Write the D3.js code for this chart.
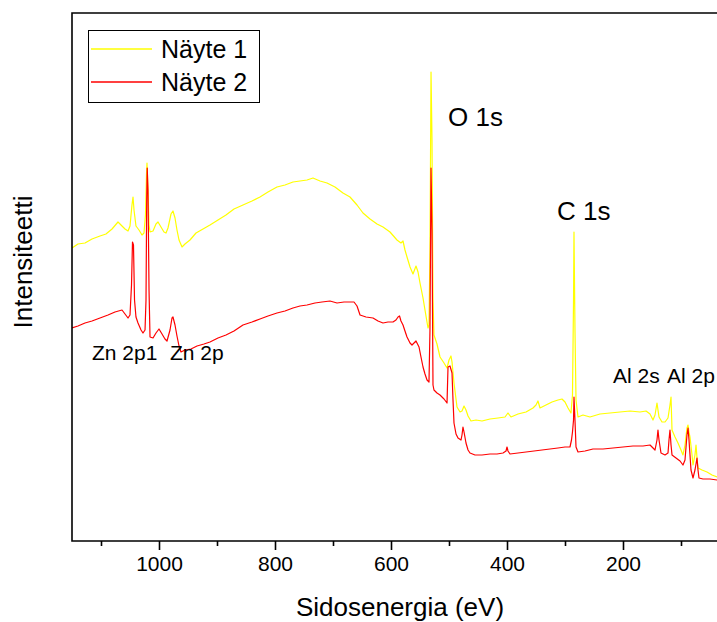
<!DOCTYPE html>
<html>
<head>
<meta charset="utf-8">
<script src="https://cdn.jsdelivr.net/npm/d3@7"></script>
<style>
  html, body { margin: 0; padding: 0; background: #fff; }
  svg { display: block; font-family: "Liberation Sans", Arial, sans-serif; }
</style>
</head>
<body>
<svg id="chart" width="717" height="622"></svg>
<script>
// XPS survey spectra: binding energy (eV) and intensity (a.u.)
const nayte1Energy = [1150.0,1139.7,1127.6,1115.5,1101.7,1091.4,1081.0,1070.7,1065.5,1058.6,1053.4,1050.0,1046.6,1044.8,1043.1,1039.7,1034.5,1029.3,1025.9,1023.3,1021.6,1020.7,1019.0,1017.2,1015.5,1010.3,1005.2,1001.7,996.6,991.4,987.9,984.5,979.3,975.9,972.4,969.0,965.5,960.3,955.2,946.6,936.2,924.1,912.1,898.3,884.5,870.7,855.2,839.7,825.9,812.1,796.6,782.8,769.0,756.9,744.8,734.5,722.4,710.3,696.6,682.8,670.7,658.6,648.3,636.2,624.1,613.8,601.7,589.7,582.8,579.3,575.9,572.4,567.2,562.1,556.9,553.4,550.0,544.8,541.4,536.2,534.5,532.8,531.0,529.3,527.6,525.9,520.7,515.5,508.6,503.4,500.0,496.6,494.8,491.4,486.2,481.0,477.6,474.1,470.7,467.2,462.1,453.4,443.1,429.3,415.5,403.4,398.3,393.1,381.0,367.2,355.2,350.0,346.6,343.1,332.8,322.4,312.1,305.2,300.0,294.8,289.7,287.1,285.3,284.5,282.8,281.0,277.6,269.0,256.9,239.7,222.4,205.2,187.9,170.7,160.3,153.4,148.3,144.8,141.4,137.9,132.8,127.6,122.4,119.0,117.2,115.5,110.3,105.2,100.0,96.6,93.1,89.7,87.9,86.2,84.5,81.0,79.3,75.9,74.1,72.4,70.7,63.8,55.2,46.6,37.9];
const nayte1Counts = [293,297,298,302,305,307,312,319,316,312,310,315,336,344,331,315,311,306,308,326,366,378,351,316,309,310,317,319,314,309,308,313,327,330,323,311,301,294,297,301,308,312,316,321,326,332,336,340,344,349,354,356,359,360,361,363,360,358,354,348,344,336,328,322,317,314,309,301,298,300,291,284,274,267,275,269,258,243,231,213,216,291,469,401,241,206,197,184,178,173,181,185,179,158,134,129,130,135,131,125,120,121,120,122,123,124,128,124,127,129,133,136,140,133,136,139,141,142,139,133,128,146,241,309,211,141,124,126,124,127,128,129,130,129,130,127,121,126,138,124,119,119,123,136,144,111,104,98,91,86,96,113,116,109,104,86,76,86,96,83,73,71,69,66,64];

const nayte2Energy = [1150.0,1139.7,1127.6,1115.5,1101.7,1087.9,1075.9,1063.8,1058.6,1053.4,1050.0,1047.4,1045.7,1044.0,1042.2,1039.7,1036.2,1031.0,1027.6,1024.1,1022.4,1021.2,1020.3,1019.0,1017.2,1015.5,1010.3,1005.2,1000.0,994.8,989.7,986.2,981.0,977.6,975.9,972.4,969.0,965.5,962.1,955.2,944.8,934.5,922.4,912.1,898.3,884.5,870.7,855.2,839.7,825.9,812.1,796.6,782.8,769.0,756.9,744.8,731.0,719.0,705.2,693.1,681.0,670.7,663.8,658.6,653.4,643.1,631.0,622.4,613.8,605.2,596.6,591.4,587.9,585.3,582.8,579.3,575.9,572.4,567.2,563.8,560.3,556.9,551.7,548.3,544.8,541.4,537.9,534.5,532.8,531.0,529.3,527.6,525.9,520.7,515.5,508.6,503.4,501.7,498.3,494.8,493.1,491.4,487.9,484.5,479.3,477.6,475.9,474.1,470.7,467.2,463.8,455.2,443.1,429.3,417.2,406.9,401.7,400.0,398.3,394.8,381.0,367.2,353.4,339.7,325.9,312.1,300.0,291.4,288.8,287.1,285.3,284.5,282.8,281.0,277.6,265.5,251.7,234.5,217.2,200.0,182.8,165.5,153.4,144.8,141.4,139.7,137.9,134.5,127.6,122.4,120.7,119.0,117.2,115.5,108.6,101.7,96.6,93.1,89.7,87.9,86.2,82.8,79.3,75.9,72.4,70.7,69.0,62.1,50.0,37.9];
const nayte2Counts = [213,215,218,220,223,226,229,231,227,223,226,256,299,296,241,224,218,211,208,211,241,341,373,351,251,204,203,208,212,207,202,200,211,223,224,216,205,195,189,191,192,195,197,199,203,206,210,216,219,222,225,228,230,233,235,236,238,239,240,238,239,239,239,235,226,224,223,220,218,219,219,221,224,225,220,216,210,204,198,196,198,200,194,184,174,167,161,159,211,373,311,156,151,148,146,142,138,174,175,168,141,118,107,103,101,106,114,109,98,91,88,86,86,87,87,88,90,94,90,87,88,89,90,91,92,93,94,94,101,109,121,144,121,94,89,90,92,92,93,94,95,95,96,91,101,111,101,88,86,88,101,111,96,86,83,80,76,81,106,113,101,71,63,71,83,71,63,62,62,61];

const seriesNames = ["Näyte 1", "Näyte 2"];
const seriesColors = ["#ffff00", "#ff0000"];

const majorTicks = [1000, 800, 600, 400, 200];
const minorTicks = [1100, 900, 700, 500, 300, 100];

const peakLabels = ["O 1s", "C 1s", "Zn 2p1", "Zn 2p", "Al 2s", "Al 2p"];

const svg = d3.select("#chart");

const plot = { left: 72, top: 13, bottom: 541, right: 739 };

const x = d3.scaleLinear().domain([1150, 0]).range([plot.left, plot.right]);
const y = d3.scaleLinear().domain([0, 528]).range([plot.bottom, plot.top]);

svg.append("defs").append("clipPath").attr("id", "plot-clip")
  .append("rect")
  .attr("x", plot.left).attr("y", plot.top)
  .attr("width", plot.right - plot.left).attr("height", plot.bottom - plot.top);

const series = [
  d3.zip(nayte1Energy, nayte1Counts),
  d3.zip(nayte2Energy, nayte2Counts)
];

const line = d3.line().x(d => x(d[0])).y(d => y(d[1]));

svg.append("g").attr("clip-path", "url(#plot-clip)")
  .selectAll("path")
  .data(series)
  .join("path")
  .attr("d", line)
  .attr("fill", "none")
  .attr("stroke", (d, i) => seriesColors[i])
  .attr("stroke-width", 1.2)
  .attr("stroke-linejoin", "round");

// frame
svg.append("path")
  .attr("d", `M${plot.right},${plot.top}H${plot.left}V${plot.bottom}H${plot.right}`)
  .attr("fill", "none").attr("stroke", "#000").attr("stroke-width", 1.6);

// bottom axis: major ticks with labels, minor ticks without
const axisMajor = d3.axisBottom(x).tickValues(majorTicks).tickSize(9).tickPadding(6)
  .tickFormat(d3.format("d"));
const gMajor = svg.append("g").attr("transform", `translate(0,${plot.bottom})`).call(axisMajor);
gMajor.select(".domain").remove();
gMajor.selectAll("line").attr("stroke", "#000").attr("stroke-width", 1.6);
gMajor.selectAll("text").attr("font-size", 21).attr("fill", "#000")
  .attr("font-family", "'Liberation Sans', Arial, sans-serif");

const axisMinor = d3.axisBottom(x).tickValues(minorTicks).tickSize(5).tickFormat("");
const gMinor = svg.append("g").attr("transform", `translate(0,${plot.bottom})`).call(axisMinor);
gMinor.select(".domain").remove();
gMinor.selectAll("line").attr("stroke", "#000").attr("stroke-width", 1.6);

// axis titles
svg.append("text")
  .attr("x", 400).attr("y", 616)
  .attr("text-anchor", "middle").attr("font-size", 26)
  .text("Sidosenergia (eV)");

svg.append("text")
  .attr("transform", "translate(32,262) rotate(-90)")
  .attr("text-anchor", "middle").attr("font-size", 26)
  .text("Intensiteetti");

// peak labels
const labelPos = [
  { x: 448, y: 126, size: 26 },
  { x: 557, y: 220, size: 26 },
  { x: 92, y: 360, size: 21 },
  { x: 170, y: 360, size: 21 },
  { x: 613, y: 383, size: 21 },
  { x: 667, y: 383, size: 21 }
];
svg.append("g").selectAll("text")
  .data(peakLabels)
  .join("text")
  .attr("x", (d, i) => labelPos[i].x)
  .attr("y", (d, i) => labelPos[i].y)
  .attr("font-size", (d, i) => labelPos[i].size)
  .attr("fill", "#000")
  .text(d => d);

// legend
const legend = svg.append("g");
legend.append("rect")
  .attr("x", 88.5).attr("y", 30.5).attr("width", 171).attr("height", 72)
  .attr("fill", "#fff").attr("stroke", "#000").attr("stroke-width", 1);
const legendRows = legend.selectAll("g.row")
  .data(seriesNames)
  .join("g").attr("class", "row")
  .attr("transform", (d, i) => `translate(0,${49 + i * 33})`);
legendRows.append("line")
  .attr("x1", 91).attr("x2", 152).attr("y1", 0).attr("y2", 0)
  .attr("stroke", (d, i) => seriesColors[i]).attr("stroke-width", 1.5);
legendRows.append("text")
  .attr("x", 161).attr("y", 9).attr("font-size", 25).attr("fill", "#000")
  .text(d => d);
</script>
</body>
</html>
